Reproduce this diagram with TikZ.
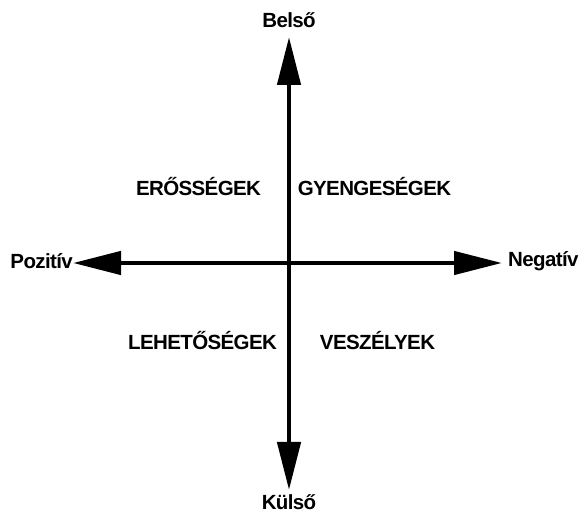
\documentclass[tikz,border=0pt]{standalone}
\usepackage{fontspec}
\setmainfont{Liberation Sans}
\newfontfamily\tightfont[LetterSpace=-3]{Liberation Sans}
\usetikzlibrary{arrows.meta}
\tikzset{
  axis/.style={line width=4.5pt, {Triangle[length=48pt,width=23pt]}-{Triangle[length=48pt,width=23pt]}},
  axislabel/.style={font=\tightfont\fontsize{20.5}{24}\selectfont\bfseries, inner sep=0pt},
  quadlabel/.style={font=\tightfont\fontsize{20.5}{24}\selectfont\bfseries, inner sep=0pt}
}
\begin{document}
\begin{tikzpicture}[x=1pt, y=-1pt]
    \useasboundingbox (0,0) rectangle (582,513);
    % Axis ends
    \coordinate (top) at (289,37);
    \coordinate (bottom) at (289,490);
    \coordinate (left) at (73,263);
    \coordinate (right) at (502,263);
    % Axes
    \draw[axis] (bottom) -- (top);
    \draw[axis] (left) -- (right);
    % Axis labels
    \node[axislabel, above] (belso) at (289,28) {Belső};
    \node[axislabel, below] (kulso) at (289,494) {Külső};
    \node[axislabel, left] (pozitiv) at (73,261) {Pozitív};
    \node[axislabel, right] (negativ) at (508,261) {Negatív};
    % Quadrants
    \node[quadlabel] (erossegek) at (198.5,187) {ERŐSSÉGEK};
    \node[quadlabel] (gyengesegek) at (374.5,187) {GYENGESÉGEK};
    \node[quadlabel] (lehetosegek) at (202.5,341) {LEHETŐSÉGEK};
    \node[quadlabel] (veszelyek) at (377.5,341) {VESZÉLYEK};
\end{tikzpicture}
\end{document}
